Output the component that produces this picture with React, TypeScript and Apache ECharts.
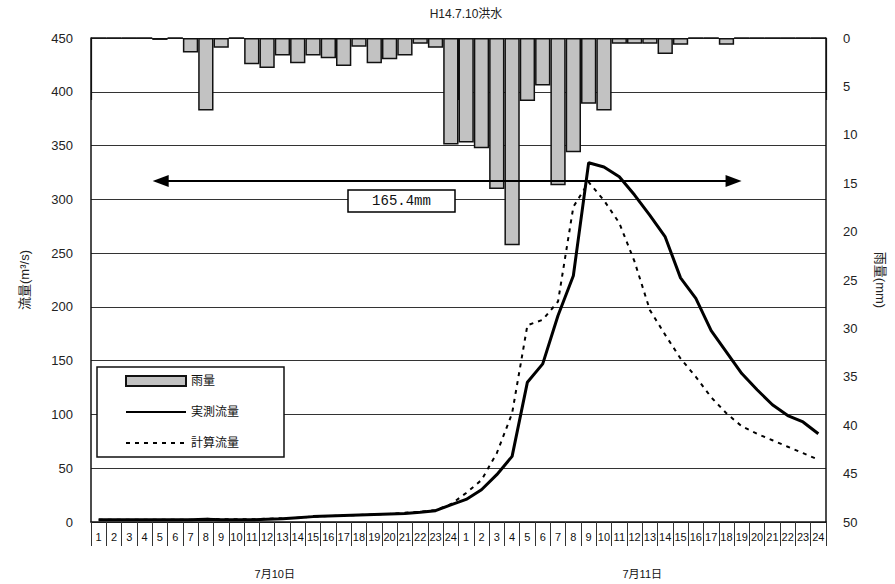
import React, { useEffect, useRef } from "react";
import * as echarts from "echarts";

const TITLE = "H14.7.10洪水";
const hourLabels: string[] = [
  "1","2","3","4","5","6","7","8","9","10","11","12","13","14","15","16","17","18","19","20","21","22","23","24",
  "1","2","3","4","5","6","7","8","9","10","11","12","13","14","15","16","17","18","19","20","21","22","23","24",
];
const dayLabels: string[] = ["7月10日", "7月11日"];

// 雨量 (mm)
const rainfall: number[] = [
  0, 0, 0, 0, 0.2, 0, 1.5, 7.5, 1.0, 0, 2.7, 3.1, 1.8, 2.6, 1.8, 2.1, 2.9, 0.9, 2.6, 2.2, 1.8, 0.6, 1.0, 11.0,
  10.8, 11.4, 15.6, 21.4, 6.5, 4.9, 15.2, 11.8, 6.8, 7.5, 0.6, 0.6, 0.6, 1.65, 0.7, 0, 0, 0.7, 0, 0, 0, 0, 0, 0,
];
// 実測流量 (m3/s)
const observed: number[] = [
  2, 2, 2, 2, 2, 2, 2, 2.5, 2, 2, 2, 2.5, 3, 4, 5, 5.5, 6, 6.5, 7, 7.5, 8, 9, 10.5, 16,
  21, 30, 44, 61, 130, 147, 192, 229, 334, 330, 321, 304, 285, 265, 227, 208, 178, 158, 138, 123, 109, 99, 93, 82,
];
// 計算流量 (m3/s)
const calculated: number[] = [
  2, 2, 2, 2, 2, 2, 2, 3, 2.5, 2.5, 2.5, 3, 3.5, 4, 5, 5.5, 6, 6.5, 7, 7.5, 8.5, 9.5, 11, 16.5,
  27, 39, 64, 101, 183, 188, 205, 293, 316, 299, 278, 242, 197, 174, 152, 135, 116, 101, 89, 82, 76, 70, 64, 58,
];
const flowTicks = { min: 0, max: 450, interval: 50 };
const rainTicks = { min: 0, max: 50, interval: 5 };
const totalLabel = "165.4mm";

const W = 895;
const H = 584;
const GL = 91;
const GR = 64;
const GT = 38;
const GB = 62;

const FONT = "'Liberation Sans', 'Noto Sans CJK JP', sans-serif";

export default function App() {
  const ref = useRef<HTMLDivElement>(null);
  useEffect(() => {
    if (!ref.current) return;
    const chart = echarts.init(ref.current, undefined, { renderer: "svg" });
    const plotW = W - GL - GR;
    const cw = plotW / hourLabels.length;
    const arrowY = GT + (H - GT - GB) * (1 - 317 / flowTicks.max);
    const ax1 = GL + 4 * cw;
    const ax2 = GL + 42.2 * cw;
    chart.setOption({
      animation: false,
      textStyle: { fontFamily: FONT },
      title: {
        text: TITLE,
        left: 461,
        textAlign: "center",
        top: 3,
        textStyle: { fontSize: 12, fontWeight: "normal", color: "#222", fontFamily: FONT },
      },
      legend: {
        orient: "vertical",
        left: 97,
        top: 367,
        padding: [8, 45, 8, 28],
        itemGap: 19,
        itemWidth: 60,
        itemHeight: 10,
        borderColor: "#111",
        borderWidth: 1.5,
        backgroundColor: "#fff",
        textStyle: { fontSize: 12, color: "#111", fontFamily: FONT },
        data: [
          { name: "雨量", icon: "rect" },
          { name: "実測流量", itemStyle: { opacity: 0 } },
          { name: "計算流量", itemStyle: { opacity: 0 } },
        ],
      },
      grid: { left: GL, right: GR, top: GT, bottom: GB, containLabel: false },
      xAxis: [
        {
          type: "category",
          data: hourLabels,
          position: "bottom",
          axisLine: { show: true, lineStyle: { color: "#111", width: 1.5 } },
          axisTick: { show: true, interval: 0, length: 24, lineStyle: { color: "#333" } },
          axisLabel: {
            interval: 0,
            margin: 9,
            fontSize: 11,
            color: "#111",
            fontFamily: "'Liberation Sans Narrow', 'Liberation Sans', sans-serif",
          },
          splitLine: { show: false },
        },
        {
          type: "category",
          data: dayLabels,
          position: "bottom",
          axisLine: { show: false },
          axisTick: { show: true, interval: 0, length: 62, lineStyle: { color: "#111", width: 1.2 } },
          axisLabel: { interval: 0, margin: 46, fontSize: 11, color: "#111" },
          splitLine: { show: false },
        },
      ],
      yAxis: [
        {
          type: "value",
          min: flowTicks.min,
          max: flowTicks.max,
          interval: flowTicks.interval,
          name: "流量(m³/s)",
          nameLocation: "middle",
          nameRotate: 90,
          nameGap: 60,
          nameTextStyle: { fontSize: 13, color: "#222" },
          axisLine: { show: true, lineStyle: { color: "#111", width: 1.5 } },
          axisTick: { show: false },
          axisLabel: { fontSize: 13, color: "#222", margin: 18 },
          splitLine: { show: true, lineStyle: { color: "#333", width: 1 } },
        },
        {
          type: "value",
          min: rainTicks.min,
          max: rainTicks.max,
          interval: rainTicks.interval,
          inverse: true,
          name: "雨量(mm)",
          nameLocation: "middle",
          nameRotate: -90,
          nameGap: 48,
          nameTextStyle: { fontSize: 13, color: "#222" },
          axisLine: { show: true, lineStyle: { color: "#111", width: 1.5 } },
          axisTick: { show: false },
          axisLabel: { fontSize: 13, color: "#222", margin: 17 },
          splitLine: { show: false },
        },
      ],
      series: [
        {
          name: "雨量",
          type: "bar",
          xAxisIndex: 0,
          yAxisIndex: 1,
          data: rainfall,
          barCategoryGap: 0,
          itemStyle: { color: "#c2c2c2", borderColor: "#111", borderWidth: 1.5 },
          z: 1,
        },
        {
          name: "実測流量",
          type: "line",
          xAxisIndex: 0,
          yAxisIndex: 0,
          data: observed,
          symbol: "none",
          lineStyle: { color: "#000", width: 3 },
          itemStyle: { color: "#000" },
          z: 5,
        },
        {
          name: "計算流量",
          type: "line",
          xAxisIndex: 0,
          yAxisIndex: 0,
          data: calculated,
          symbol: "none",
          lineStyle: { color: "#000", width: 2, type: [4, 5] },
          itemStyle: { color: "#000" },
          z: 4,
        },
      ],
      graphic: [
        {
          type: "line",
          shape: { x1: ax1 + 12, y1: arrowY, x2: ax2 - 12, y2: arrowY },
          style: { stroke: "#000", lineWidth: 2 },
          z: 10,
        },
        {
          type: "polygon",
          shape: { points: [[ax1, arrowY], [ax1 + 16, arrowY - 6], [ax1 + 16, arrowY + 6]] },
          style: { fill: "#000" },
          z: 10,
        },
        {
          type: "polygon",
          shape: { points: [[ax2, arrowY], [ax2 - 16, arrowY - 6], [ax2 - 16, arrowY + 6]] },
          style: { fill: "#000" },
          z: 10,
        },
        {
          type: "rect",
          shape: { x: 348, y: 190, width: 107, height: 22 },
          style: { fill: "#fff", stroke: "#000", lineWidth: 1.5 },
          z: 10,
        },
        {
          type: "text",
          x: 401.5,
          y: 201,
          style: {
            text: totalLabel,
            fill: "#111",
            font: "14px 'Liberation Mono', monospace",
            textAlign: "center",
            textVerticalAlign: "middle",
          },
          z: 11,
        },
      ],
    });
    return () => chart.dispose();
  }, []);
  return (
    <div
      ref={ref}
      style={{ position: "fixed", left: 0, top: 0, width: W, height: H, background: "#fff" }}
    />
  );
}
